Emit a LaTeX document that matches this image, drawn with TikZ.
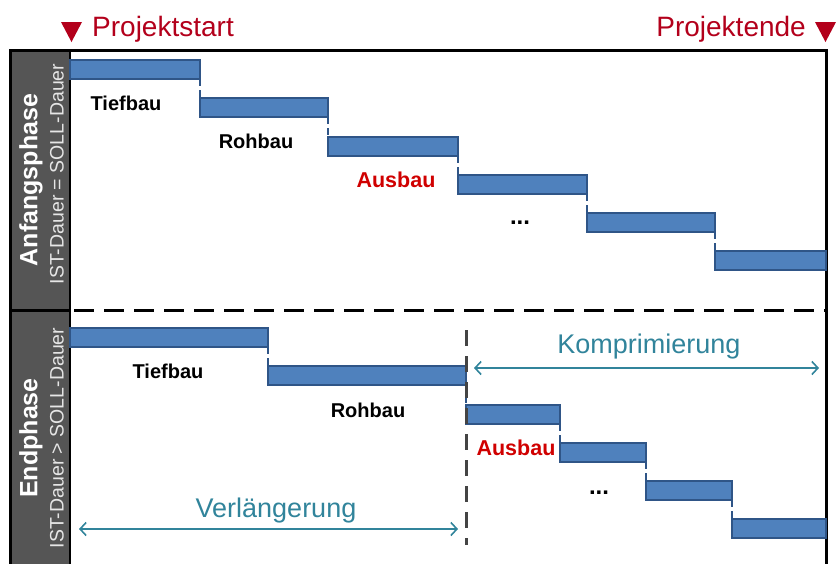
\documentclass[tikz,border=0pt]{standalone}
\usepackage{fontspec}
\setmainfont{Liberation Sans}
\usetikzlibrary{arrows.meta}
\definecolor{barfill}{HTML}{4F81BD}
\definecolor{barline}{HTML}{2F5587}
\definecolor{band}{HTML}{555555}
\definecolor{milestone}{HTML}{B3001B}
\definecolor{hot}{HTML}{D00000}
\definecolor{teal}{HTML}{31849B}
\definecolor{bandsub}{HTML}{E6E6E6}
\begin{document}
\begin{tikzpicture}[x=1pt,y=-1pt,
  bar/.style={draw=barline,fill=barfill,line width=1.6pt,inner sep=0pt,outer sep=0pt,
    minimum height=19pt,anchor=north west},
  link/.style={draw=barline,line width=1.4pt,dash pattern=on 7pt off 4pt},
  tasklabel/.style={font=\fontsize{20}{20}\selectfont\bfseries,anchor=base,inner sep=0pt},
  hotlabel/.style={tasklabel,font=\fontsize{21.5}{21.5}\selectfont\bfseries,text=hot},
  dotslabel/.style={tasklabel,font=\fontsize{24}{24}\selectfont\bfseries},
  phase/.style={font=\fontsize{25}{25}\selectfont\bfseries,text=white,rotate=90,inner sep=0pt},
  phasesub/.style={font=\fontsize{19.5}{19.5}\selectfont,text=bandsub,rotate=90,inner sep=0pt},
  measure/.style={draw=teal,line width=1.6pt,{Straight Barb[length=6pt,width=13pt,line width=1.6pt]}-{Straight Barb[length=6pt,width=13pt,line width=1.6pt]}},
  measurelabel/.style={font=\fontsize{27}{27}\selectfont,text=teal,anchor=base,inner sep=0pt},
  mslabel/.style={font=\fontsize{28}{28}\selectfont,text=milestone,anchor=base,inner sep=0pt}]
\useasboundingbox (0,0) rectangle (836,563);
\begin{scope}
\clip (0,0) rectangle (836,563);

% left band with the two phase names
\fill[band] (10,50) rectangle (70,580);
\draw[black,line width=3pt] (10,310) -- (70,310);
\draw[black,line width=2pt] (70,50) -- (70,580);
\draw[black,line width=3pt] (10,580) -- (10,50) -- (826,50) -- (826,580);

\node[phase] (p1) at (31,180) {Anfangsphase};
\node[phasesub] (s1) at (57,174) {IST-Dauer = SOLL-Dauer};
\node[phase] (p2) at (31,438) {Endphase};
\node[phasesub] (s2) at (57,438) {IST-Dauer > SOLL-Dauer};

% phase separator
\draw[black,line width=3pt,dash pattern=on 20pt off 10pt] (74,310) -- (826,310);

% start phase: planned = actual
\node[bar,minimum width=130pt] (t1) at (70,60) {};
\node[bar,minimum width=128pt] (t2) at (200,98) {};
\node[bar,minimum width=130pt] (t3) at (328,137) {};
\node[bar,minimum width=129pt] (t4) at (458,175) {};
\node[bar,minimum width=128pt] (t5) at (587,213) {};
\node[bar,minimum width=111pt] (t6) at (715,251) {};
\foreach \a/\b in {t1/t2,t2/t3,t3/t4,t4/t5,t5/t6}
  \draw[link] (\a.south east) -- (\b.north west);

\node[tasklabel] (l1) at (126,110) {Tiefbau};
\node[tasklabel] (l2) at (256,148) {Rohbau};
\node[hotlabel] (l3) at (396,187) {Ausbau};
\node[dotslabel] (l4) at (520,224) {...};

% end phase: actual > planned
\node[bar,minimum width=198pt] (b1) at (70,328) {};
\node[bar,minimum width=198pt] (b2) at (268,366) {};
\node[bar,minimum width=94pt] (b3) at (466,405) {};
\node[bar,minimum width=86pt] (b4) at (560,443) {};
\node[bar,minimum width=86pt] (b5) at (646,481) {};
\node[bar,minimum width=94pt] (b6) at (732,519) {};
\foreach \a/\b in {b1/b2,b2/b3,b3/b4,b4/b5,b5/b6}
  \draw[link] (\a.south east) -- (\b.north west);

\node[tasklabel] (m1) at (168,378) {Tiefbau};
\node[tasklabel] (m2) at (368,417) {Rohbau};
\node[hotlabel] (m3) at (516,455) {Ausbau};
\node[dotslabel] (m4) at (599,494) {...};

% today line
\coordinate (cutTop) at (466,330);
\coordinate (cutBot) at (466,545);
\draw[band!80!black,line width=3pt,dash pattern=on 16pt off 10pt] (cutTop) -- (cutBot);

% compression / extension ranges
\coordinate (kL) at (474,368);
\coordinate (kR) at (819,368);
\draw[measure] (kL) -- (kR);
\node[measurelabel] (kt) at (649,353) {Komprimierung};
\coordinate (vL) at (79,529);
\coordinate (vR) at (458,529);
\draw[measure] (vL) -- (vR);
\node[measurelabel] (vt) at (276,517) {Verlängerung};

\end{scope}

% milestones
\fill[milestone] (61,22) -- (82,22) -- (71.5,42) -- cycle;
\node[mslabel,anchor=base west] (ms) at (92,36) {Projektstart};
\fill[milestone] (815,22) -- (836,22) -- (825.5,42) -- cycle;
\node[mslabel,anchor=base east] (me) at (806,36) {Projektende};
\end{tikzpicture}
\end{document}
